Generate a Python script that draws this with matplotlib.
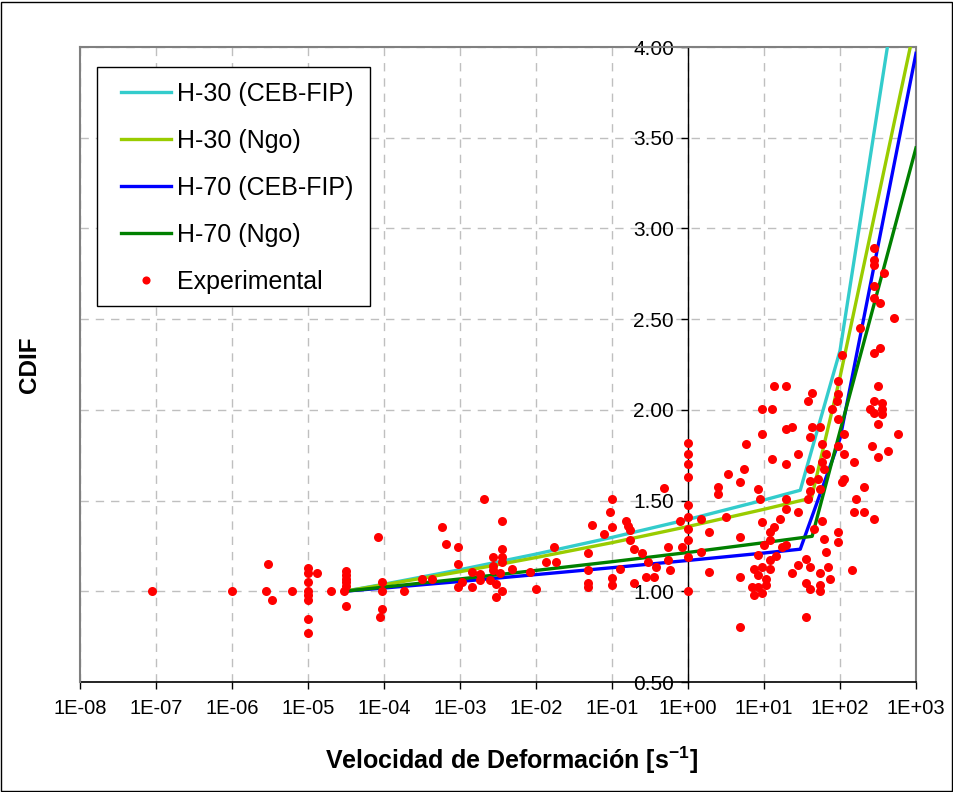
import matplotlib
matplotlib.use('Agg')
import matplotlib.pyplot as plt
from matplotlib.ticker import FixedLocator, FuncFormatter, NullLocator
from matplotlib.patches import Rectangle

plt.rcParams['font.family'] = ['Liberation Sans', 'DejaVu Sans']
plt.rcParams['mathtext.fontset'] = 'custom'
plt.rcParams['mathtext.rm'] = 'Liberation Sans'
plt.rcParams['mathtext.bf'] = 'Liberation Sans:bold'

# ---------------- data ----------------
rate_h30_ceb = [3e-5, 1e-4, 1e-3, 1e-2, 1e-1, 1, 10, 30, 100, 1000]
cdif_h30_ceb = [1.000, 1.039, 1.119, 1.205, 1.297, 1.396, 1.503, 1.557, 2.326, 5.010]

rate_h30_ngo = [3e-5, 1e-4, 1e-3, 1e-2, 1e-1, 1, 10, 42.15, 100, 1000]
cdif_h30_ngo = [1.000, 1.036, 1.108, 1.186, 1.268, 1.357, 1.452, 1.514, 2.180, 4.148]

rate_h70_ceb = [3e-5, 1e-4, 1e-3, 1e-2, 1e-1, 1, 10, 30, 100, 1000]
cdif_h70_ceb = [1.000, 1.018, 1.054, 1.092, 1.130, 1.170, 1.211, 1.232, 1.841, 3.965]

rate_h70_ngo = [3e-5, 1e-4, 1e-3, 1e-2, 1e-1, 1, 10, 42.99, 100, 1000]
cdif_h70_ngo = [1.000, 1.023, 1.068, 1.115, 1.163, 1.214, 1.268, 1.303, 1.882, 3.444]

exp_rate = [8.9e-8, 1e-6, 3.0e-6, 2.8e-6, 3.4e-6, 6.2e-6,
            1e-5, 1e-5, 1e-5, 1e-5, 1e-5, 1e-5, 1e-5, 1e-5,
            1.3e-5, 2.0e-5, 3.0e-5,
            3.2e-5, 3.2e-5, 3.2e-5, 3.2e-5, 3.2e-5, 3.2e-5,
            8.4e-5, 9.5e-5, 9.5e-5, 9.5e-5, 8.9e-5,
            1.85e-4, 3.2e-4, 4.3e-4, 5.8e-4, 6.6e-4, 9.5e-4, 9.5e-4, 1.07e-3, 9.5e-4,
            1.45e-3, 1.45e-3, 1.85e-3, 1.85e-3, 2.1e-3, 2.5e-3, 2.7e-3, 2.7e-3, 2.7e-3,
            3.0e-3, 3.0e-3, 3.4e-3, 3.6e-3, 3.6e-3, 3.6e-3, 3.6e-3, 3.6e-3, 4.9e-3,
            8.4e-3, 1.0e-2, 1.37e-2, 1.74e-2, 1.85e-2,
            4.9e-2, 4.9e-2, 4.9e-2, 4.9e-2, 5.5e-2, 7.9e-2, 9.5e-2,
            0.10, 0.10, 0.10, 0.10, 0.128, 0.154, 0.162, 0.174, 0.174, 0.196, 0.196,
            0.25, 0.30, 0.28, 0.36, 0.38, 0.49, 0.55, 0.55, 0.585, 0.78, 0.83,
            1.0, 1.0, 1.0, 1.0, 1.0, 1.0, 1.0, 1.0, 1.0, 1.0,
            1.47, 1.47, 1.9, 1.9, 2.5, 2.5, 3.2, 3.4, 4.9, 4.9, 4.9, 4.9,
            5.5, 5.85, 8.4, 8.9, 9.5, 9.5, 9.5, 7.4, 8.4, 8.4, 9.5, 10.0,
            7.0, 7.4, 8.4, 9.5, 10.7, 10.7, 12.1, 12.1, 12.1, 12.1,
            12.9, 12.9, 13.7, 13.7, 14.5, 16.4, 17.4,
            19.6, 19.6, 19.6, 19.6, 19.6, 19.6, 23.6, 23.6, 28.3, 28.3, 28.3,
            36, 36, 36, 38, 43, 43, 55, 40.6, 58.5, 66, 58.5, 62, 40.6, 40.6,
            51.8, 55, 40.6, 38.3, 58.5, 46, 62, 95, 95, 66, 40.6, 70, 55, 74.5,
            40.6, 55, 55,
            145, 114, 95, 114, 154, 114, 107, 209, 164, 154, 209, 283, 319, 585,
            266, 432, 319,
            283, 283, 283, 383, 283, 283, 339, 518, 185, 339, 283, 107,
            95, 95, 90, 79, 95, 319, 283, 360, 250, 283, 360, 360]
exp_cdif = [1.00, 1.00, 1.15, 1.00, 0.95, 1.00,
            1.13, 1.10, 1.05, 1.00, 0.98, 0.95, 0.85, 0.77,
            1.10, 1.00, 1.00,
            1.11, 1.09, 1.07, 1.05, 1.03, 0.92,
            1.30, 1.05, 1.00, 0.90, 0.86,
            1.00, 1.07, 1.07, 1.355, 1.26, 1.245, 1.15, 1.05, 1.025,
            1.105, 1.025, 1.095, 1.06, 1.51, 1.06, 1.19, 1.14, 1.115,
            1.04, 0.97, 1.10, 1.39, 1.235, 1.19, 1.16, 1.00, 1.125,
            1.105, 1.015, 1.16, 1.245, 1.16,
            1.21, 1.115, 1.045, 1.025, 1.365, 1.315, 1.435,
            1.51, 1.355, 1.075, 1.035, 1.125, 1.385, 1.36, 1.34, 1.285, 1.235, 1.045,
            1.21, 1.16, 1.08, 1.08, 1.135, 1.57, 1.245, 1.17, 1.115, 1.39, 1.245,
            1.82, 1.755, 1.70, 1.63, 1.475, 1.41, 1.345, 1.28, 1.19, 1.00,
            1.40, 1.215, 1.325, 1.105, 1.575, 1.535, 1.41, 1.645, 1.60, 1.30, 1.08, 0.805,
            1.675, 1.81, 1.565, 1.51, 2.005, 1.865, 1.38, 1.125, 1.20, 1.09, 1.135, 1.255,
            1.025, 0.98, 1.025, 0.99, 1.07, 1.035, 1.325, 1.28, 1.17, 1.125,
            2.005, 1.73, 2.13, 1.355, 1.195, 1.40, 1.245,
            2.13, 1.895, 1.70, 1.51, 1.455, 1.255, 1.905, 1.10, 1.755, 1.435, 1.145,
            1.18, 1.045, 0.86, 2.05, 2.095, 1.905, 1.905, 1.85, 1.81, 1.755, 1.71, 1.675, 1.675, 1.61,
            1.62, 1.565, 1.555, 1.51, 1.39, 1.345, 1.29, 1.325, 1.27, 1.215, 1.135, 1.135, 1.10, 1.07,
            1.015, 1.035, 1.00,
            1.115, 1.865, 1.80, 1.755, 1.71, 1.62, 1.60, 1.575, 1.51, 1.435, 1.435, 1.40, 1.92, 1.865,
            1.80, 1.775, 1.74,
            2.89, 2.825, 2.80, 2.755, 2.68, 2.615, 2.59, 2.505, 2.45, 2.34, 2.315, 2.305,
            2.16, 2.085, 2.05, 2.005, 1.95, 2.13, 2.05, 2.04, 2.005, 1.985, 2.005, 1.975]

series_labels = ['H-30 (CEB-FIP)', 'H-30 (Ngo)', 'H-70 (CEB-FIP)', 'H-70 (Ngo)', 'Experimental']
x_ticks = [1e-8, 1e-7, 1e-6, 1e-5, 1e-4, 1e-3, 1e-2, 1e-1, 1e0, 1e1, 1e2, 1e3]
x_tick_labels = ['1E-08', '1E-07', '1E-06', '1E-05', '1E-04', '1E-03', '1E-02',
                 '1E-01', '1E+00', '1E+01', '1E+02', '1E+03']
y_ticks = [0.5, 1.0, 1.5, 2.0, 2.5, 3.0, 3.5, 4.0]

# ---------------- figure ----------------
W, H = 954, 792
fig = plt.figure(figsize=(W / 100, H / 100), dpi=100)
ax = fig.add_axes([80 / W, 1 - 682 / H, (916 - 80) / W, (682 - 47) / H])

lw = 2.4
l1, = ax.plot(rate_h30_ceb, cdif_h30_ceb, color='#33CCCC', lw=lw, zorder=3)
l2, = ax.plot(rate_h30_ngo, cdif_h30_ngo, color='#99CC00', lw=lw, zorder=3)
l3, = ax.plot(rate_h70_ceb, cdif_h70_ceb, color='#0000FF', lw=lw, zorder=3)
l4, = ax.plot(rate_h70_ngo, cdif_h70_ngo, color='#008000', lw=lw, zorder=3)
l5, = ax.plot(exp_rate, exp_cdif, linestyle='none', marker='o', markersize=6.5,
              color='#FF0000', markeredgewidth=0, zorder=4)

ax.set_xscale('log')
ax.set_xlim(1e-8, 1e3)
ax.set_ylim(0.5, 4.0)
ax.xaxis.set_major_locator(FixedLocator(x_ticks))
ax.xaxis.set_minor_locator(NullLocator())
ax.set_xticklabels(x_tick_labels)
ax.yaxis.set_major_locator(FixedLocator(y_ticks))
ax.yaxis.set_major_formatter(FuncFormatter(lambda v, p: f'{v:.2f}'))

ax.grid(True, which='major', color='#BFBFBF', linestyle=(0, (6, 5)), linewidth=1.0, zorder=0)
ax.set_axisbelow(True)

# spines
for s in ['top', 'right']:
    ax.spines[s].set_color('#808080')
    ax.spines[s].set_linewidth(1.5)
ax.spines['bottom'].set_color('#000000')
ax.spines['bottom'].set_linewidth(1.2)
ax.spines['left'].set_position(('data', 1.0))
ax.spines['left'].set_color('#000000')
ax.spines['left'].set_linewidth(1.0)
ax.plot([0, 0], [0, 1], transform=ax.transAxes, color='#808080', lw=1.5,
        clip_on=False, zorder=5)

ax.tick_params(axis='x', direction='out', length=5, width=1, pad=7, labelsize=14.5, color='black')
ax.tick_params(axis='y', direction='out', length=5, width=1, pad=5, labelsize=15, color='black')

# axis titles
fig.text(511 / W, 1 - 760 / H, r'Velocidad de Deformación [s$^{\mathbf{-1}}$]',
         ha='center', va='center', fontsize=18, fontweight='bold')
fig.text(30 / W, 1 - 365 / H, 'CDIF', ha='center', va='center', rotation=90,
         fontsize=17.5, fontweight='bold')

# legend (frame drawn separately to match the box exactly)
legend_box = Rectangle((97 / W, 1 - 306 / H), (370 - 97) / W, (306 - 67) / H,
                       transform=fig.transFigure, facecolor='white',
                       edgecolor='black', linewidth=1.0, zorder=9)
ax.add_artist(legend_box)
legend_box.set_clip_on(False)
leg = ax.legend([l1, l2, l3, l4, l5], series_labels, loc='upper left',
                bbox_to_anchor=(121 / W, 1 - 82 / H), bbox_transform=fig.transFigure,
                fontsize=18, frameon=False, borderaxespad=0,
                handlelength=2.0, handletextpad=0.25, labelspacing=0.92,
                borderpad=0.0, numpoints=1, markerscale=0.9)
leg.set_zorder(10)

# outer chart border
fig.patches.append(Rectangle((1 / W, 1 / H), 1 - 3 / W, 1 - 3 / H, transform=fig.transFigure,
                             fill=False, edgecolor='black', linewidth=1.0))

fig.savefig('out.png', dpi=100)
